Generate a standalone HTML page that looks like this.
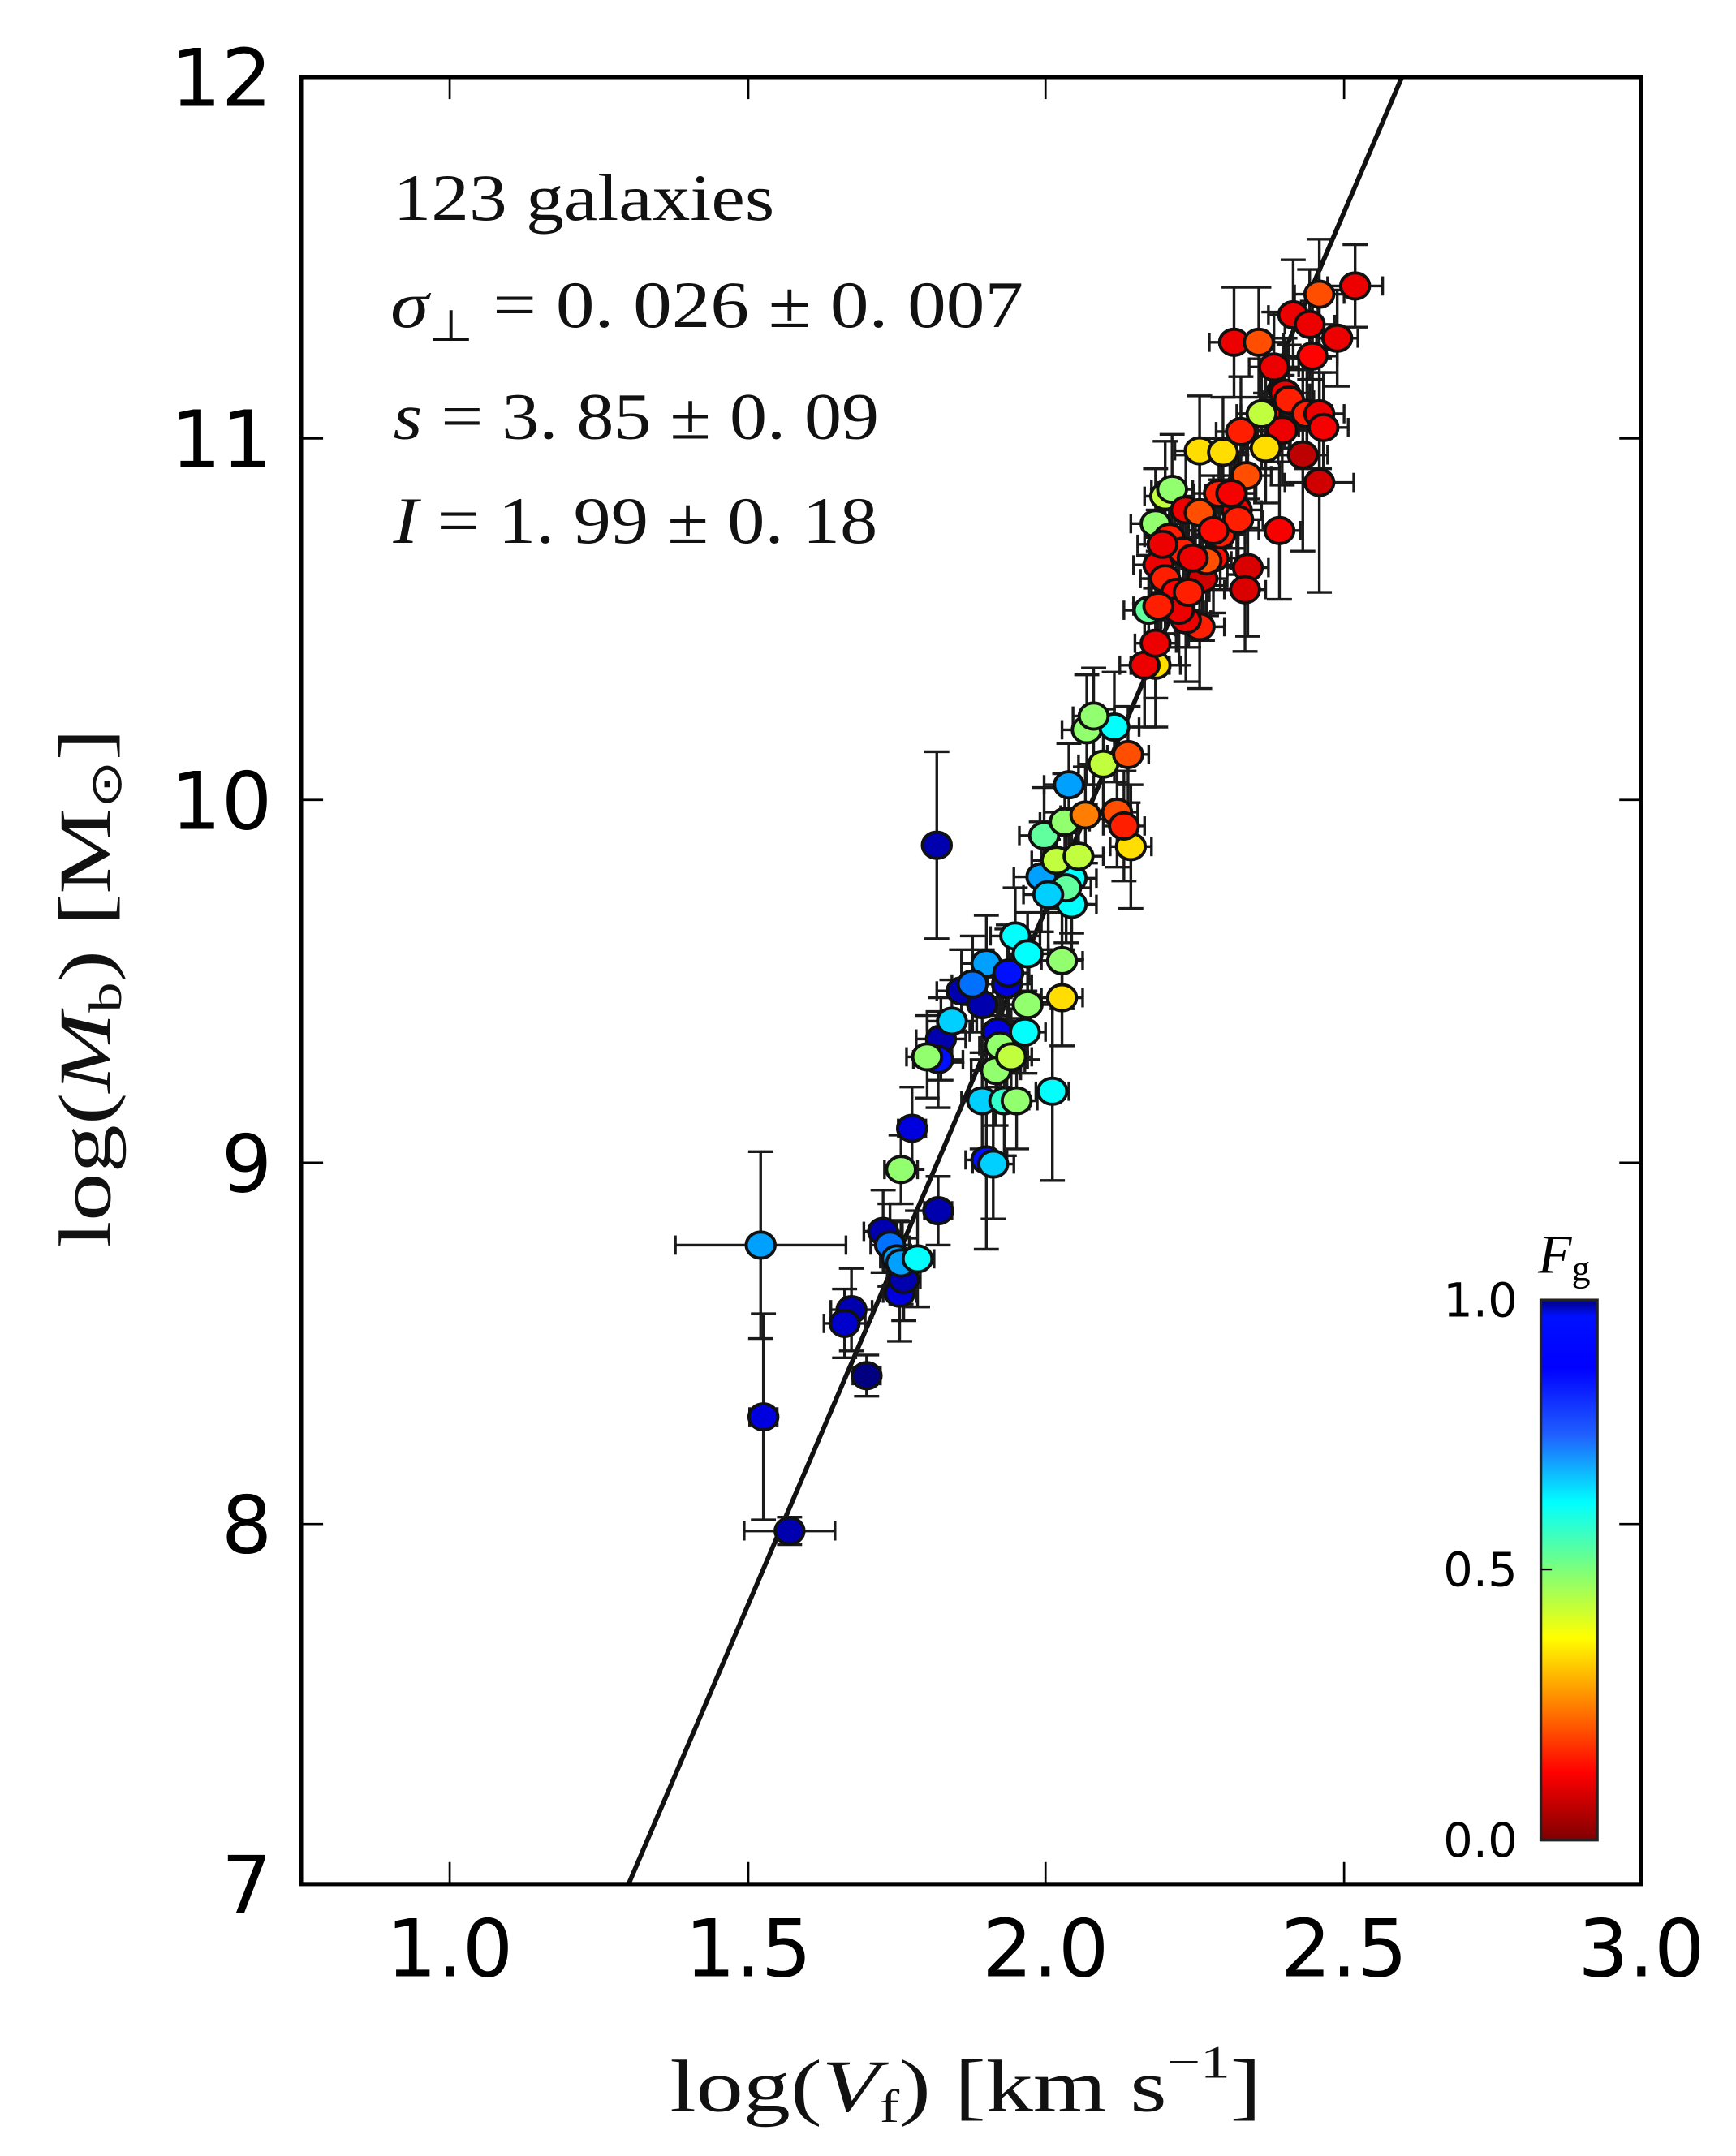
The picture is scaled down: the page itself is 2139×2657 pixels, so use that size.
<!DOCTYPE html>
<html><head><meta charset="utf-8">
<style>html,body{margin:0;padding:0;background:#fff;}svg{display:block;}</style>
</head><body>
<svg id="s" width="2139" height="2657" viewBox="-1.8 -1.1 1261.6 1569" preserveAspectRatio="none" xmlns="http://www.w3.org/2000/svg">
<defs>
<linearGradient id="jet" x1="0" y1="0" x2="0" y2="1">
<stop offset="0" stop-color="#00007f"/><stop offset="0.03" stop-color="#0010ff"/>
<stop offset="0.125" stop-color="#0000ff"/><stop offset="0.25" stop-color="#2060ff"/>
<stop offset="0.375" stop-color="#00ffff"/><stop offset="0.5" stop-color="#7dff7a"/>
<stop offset="0.625" stop-color="#ffff00"/><stop offset="0.75" stop-color="#ff8000"/>
<stop offset="0.875" stop-color="#ff0000"/><stop offset="1" stop-color="#7f0000"/>
</linearGradient>
<clipPath id="cp"><rect x="217" y="55" width="974" height="1315"/></clipPath>
</defs>
<rect x="-2" y="-2" width="1270" height="1580" fill="#fff"/>
<g id="data" clip-path="url(#cp)">
<line x1="455" y1="1370" x2="1017" y2="55" stroke="#111" stroke-width="3.4"/>
<g id="err" stroke="#1a1a1a" stroke-width="2" fill="none"></g>
<g id="pts" stroke="#111" stroke-width="2.3"></g>
</g>
<rect x="217" y="55" width="974" height="1315" fill="none" stroke="#000" stroke-width="3"/>
<g stroke="#000" stroke-width="1.6">
<line x1="325" y1="1370" x2="325" y2="1354"/><line x1="542" y1="1370" x2="542" y2="1354"/><line x1="758" y1="1370" x2="758" y2="1354"/><line x1="975" y1="1370" x2="975" y2="1354"/>
<line x1="325" y1="55" x2="325" y2="71"/><line x1="542" y1="55" x2="542" y2="71"/><line x1="758" y1="55" x2="758" y2="71"/><line x1="975" y1="55" x2="975" y2="71"/>
<line x1="217" y1="318" x2="233" y2="318"/><line x1="217" y1="581" x2="233" y2="581"/><line x1="217" y1="845" x2="233" y2="845"/><line x1="217" y1="1108" x2="233" y2="1108"/>
<line x1="1191" y1="318" x2="1175" y2="318"/><line x1="1191" y1="581" x2="1175" y2="581"/><line x1="1191" y1="845" x2="1175" y2="845"/><line x1="1191" y1="1108" x2="1175" y2="1108"/>
</g>
<g font-family="DejaVu Sans, Liberation Sans, sans-serif" font-size="58" fill="#000">
<g text-anchor="end">
<text x="196" y="76">12</text><text x="196" y="339">11</text><text x="196" y="602">10</text>
<text x="196" y="866">9</text><text x="196" y="1129">8</text><text x="196" y="1391">7</text>
</g>
<g text-anchor="middle">
<text x="325" y="1437">1.0</text><text x="542" y="1437">1.5</text><text x="758" y="1437">2.0</text>
<text x="975" y="1437">2.5</text><text x="1191" y="1437">3.0</text>
</g>
</g>
<rect x="1118" y="945" width="41" height="393" fill="url(#jet)" stroke="#222" stroke-width="2"/>
<line x1="1118" y1="1141" x2="1126" y2="1141" stroke="#000" stroke-width="1.4"/>
<g font-family="DejaVu Sans, Liberation Sans, sans-serif" font-size="34" fill="#000" text-anchor="end">
<text x="1101" y="957">1.0</text><text x="1101" y="1153">0.5</text><text x="1101" y="1350">0.0</text>
</g>
<text x="1116" y="925" font-family="Liberation Serif, serif" font-size="40" font-style="italic">F<tspan font-size="27" font-style="normal" dy="6">g</tspan></text>
<g font-family="Liberation Serif, serif" font-size="48" fill="#111">
<text x="284" y="159" textLength="277" lengthAdjust="spacingAndGlyphs">123 galaxies</text>
<text x="282" y="237" textLength="460" lengthAdjust="spacingAndGlyphs"><tspan font-style="italic">σ</tspan><tspan font-size="32" dy="10">⊥</tspan><tspan dy="-10"> = 0. 026 ± 0. 007</tspan></text>
<text x="284" y="318" textLength="353" lengthAdjust="spacingAndGlyphs"><tspan font-style="italic">s</tspan> = 3. 85 ± 0. 09</text>
<text x="284" y="394" textLength="352" lengthAdjust="spacingAndGlyphs"><tspan font-style="italic">I</tspan> = 1. 99 ± 0. 18</text>
</g>
<text x="485" y="1535" font-family="Liberation Serif, serif" font-size="54" fill="#111" textLength="430" lengthAdjust="spacingAndGlyphs">log(<tspan font-style="italic">V</tspan><tspan font-size="34" dy="8">f</tspan><tspan dy="-8">) [km s</tspan><tspan font-size="34" dy="-24">−1</tspan><tspan dy="24">]</tspan></text>
<text transform="translate(78,718) rotate(-90)" text-anchor="middle" font-family="Liberation Serif, DejaVu Sans, serif" font-size="54" fill="#111" textLength="378" lengthAdjust="spacingAndGlyphs">log(<tspan font-style="italic">M</tspan><tspan font-size="34" dy="8">b</tspan><tspan dy="-8">) [M</tspan><tspan font-size="32" dy="8">⊙</tspan><tspan dy="-8">]</tspan></text>
</svg>
<script>
(function(){
var P=[
[572,1113,0.95,33,10],[553,1030,0.9,10,75],[551,905,0.7,62,68],[617,952,0.95,15,30],[612,962,0.92,15,25],
[628,1000,1.0,10,15],[640,895,0.95,14,30],[645,905,0.75,14,30],[650,915,0.7,12,28],[652,940,0.9,12,35],
[655,930,0.95,12,30],[653,918,0.7,12,30],[665,915,0.6,12,35],[680,880,0.95,10,25],[661,820,0.9,10,30],
[653,850,0.45,12,25],[679,614,0.95,8,68],[715,843,0.85,15,65],[720,846,0.65,15,40],
[697,720,0.95,18,30],[682,755,0.95,18,30],[680,770,0.85,18,35],[690,742,0.65,18,30],[672,768,0.45,15,30],
[712,730,0.95,15,40],[715,700,0.7,18,35],[730,715,0.9,18,40],[723,750,0.9,20,40],[730,770,0.85,15,30],
[725,760,0.45,15,35],[712,800,0.65,15,35],[722,778,0.45,18,40],[733,768,0.4,15,35],[728,800,0.55,18,40],
[743,750,0.6,15,30],[736,680,0.6,18,35],[731,707,0.85,15,35],[745,693,0.6,15,30],[745,730,0.45,18,40],
[763,793,0.6,12,65],[770,725,0.3,15,35],[770,698,0.45,15,35],[737,800,0.45,15,35],[705,715,0.75,15,35],
[755,637,0.7,20,40],[777,638,0.6,18,40],[766,625,0.4,18,35],[757,607,0.5,18,35],[772,597,0.45,18,35],
[775,570,0.7,18,30],[787,592,0.2,18,35],[777,657,0.6,18,40],[773,645,0.5,18,40],[782,622,0.4,18,35],
[788,530,0.45,18,40],[800,555,0.4,18,40],[808,528,0.6,18,40],[810,590,0.15,15,40],[818,548,0.15,15,35],
[820,615,0.3,15,45],[793,520,0.45,15,35],[815,600,0.1,15,40],[760,650,0.65,18,40],
[838,483,0.3,18,45],[830,483,0.05,18,45],[833,443,0.5,18,40],[840,410,0.05,18,40],[845,420,0.1,18,40],
[838,380,0.45,18,40],[845,360,0.4,15,40],[850,355,0.45,15,40],[848,390,0.1,18,40],[860,370,0.05,18,40],
[858,400,0.1,18,40],[853,430,0.07,18,40],[872,420,0.02,18,45],[870,455,0.1,18,45],[860,450,0.05,18,45],
[880,405,0.08,18,40],[870,372,0.15,18,40],[885,388,0.1,18,40],[897,370,0.05,18,40],[892,358,0.2,18,40],
[870,327,0.3,18,40],[887,328,0.3,18,40],[855,443,0.05,18,40],[840,440,0.1,18,40],[843,395,0.05,18,40],
[838,467,0.05,15,40],[875,407,0.15,18,40],[865,405,0.05,18,40],[884,358,0.1,18,40],
[895,248,0.05,18,40],[913,248,0.15,18,40],[924,266,0.05,18,40],[932,285,0.05,18,40],[938,228,0.05,18,40],
[950,235,0.05,18,40],[957,213,0.15,18,40],[983,207,0.05,20,30],[970,245,0.05,15,35],[952,258,0.07,18,40],
[900,313,0.1,18,40],[918,300,0.1,18,40],[930,312,0.05,18,40],[935,290,0.1,18,40],[915,300,0.4,18,40],
[918,325,0.3,18,40],[948,300,0.1,18,40],[957,300,0.05,18,40],[960,310,0.06,18,40],[945,330,-0.06,18,70],
[957,350,-0.08,25,80],[928,385,0.06,15,50],[904,345,0.15,18,40],[905,412,0.03,15,50],[903,428,0.03,15,45],
[893,358,0.06,18,40],[898,377,0.1,18,40],[880,385,0.08,18,40],[862,430,0.1,15,40]
];
function jet(t){
 function c(x){return Math.max(0,Math.min(1,x));}
 var r=c(1.5-Math.abs(4*t-3)),g=c(1.5-Math.abs(4*t-2)),b=c(1.5-Math.abs(4*t-1));
 return 'rgb('+Math.round(r*255)+','+Math.round(g*255)+','+Math.round(b*255)+')';
}
var ns='http://www.w3.org/2000/svg',E=document.getElementById('err'),G=document.getElementById('pts');
function ln(x1,y1,x2,y2){var l=document.createElementNS(ns,'line');l.setAttribute('x1',x1);l.setAttribute('y1',y1);l.setAttribute('x2',x2);l.setAttribute('y2',y2);E.appendChild(l);}
P.forEach(function(p){
 var x=p[0],y=p[1],xe=p[3],ye=p[4],cap=7;
 ln(x-xe,y,x+xe,y);ln(x-xe,y-cap,x-xe,y+cap);ln(x+xe,y-cap,x+xe,y+cap);
 ln(x,y-ye,x,y+ye);ln(x-cap*1.3,y-ye,x+cap*1.3,y-ye);ln(x-cap*1.3,y+ye,x+cap*1.3,y+ye);
});
P.forEach(function(p){
 var f=p[2]<0?(-p[2]):(0.06+p[2]*0.94);
 var e=document.createElementNS(ns,'ellipse');
 e.setAttribute('cx',p[0]);e.setAttribute('cy',p[1]);e.setAttribute('rx',10.5);e.setAttribute('ry',9.5);
 e.setAttribute('fill',jet(1-f));G.appendChild(e);
});
})();
</script>
</body></html>
